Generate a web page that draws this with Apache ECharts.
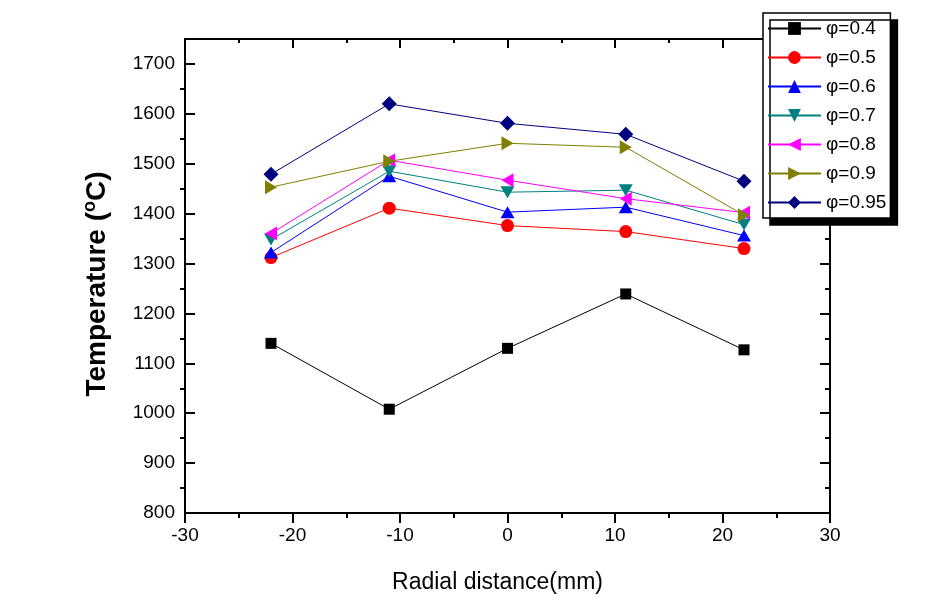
<!DOCTYPE html>
<html>
<head>
<meta charset="utf-8">
<script src="https://cdn.jsdelivr.net/npm/echarts@6/dist/echarts.min.js"></script>
<style>html,body{margin:0;padding:0;background:#fff}#c{width:929px;height:608px}</style>
</head>
<body>
<div id="c"></div>
<script>
// ---- data ----
const radial = [-22, -11, 0, 11, 22];
const seriesNames = ['φ=0.4', 'φ=0.5', 'φ=0.6', 'φ=0.7', 'φ=0.8', 'φ=0.9', 'φ=0.95'];
const phi04  = [1140, 1008, 1130, 1239, 1127];
const phi05  = [1312, 1411, 1376, 1364, 1330];
const phi06  = [1322, 1475, 1403, 1413, 1356];
const phi07  = [1348, 1485, 1443, 1447, 1378];
const phi08  = [1360, 1507, 1467, 1430, 1402];
const phi09  = [1453, 1505, 1541, 1533, 1397];
const phi095 = [1479, 1620, 1581, 1559, 1465];
const yMajorTicks = [800, 900, 1000, 1100, 1200, 1300, 1400, 1500, 1600, 1700];
const yMinorTicks = [850, 950, 1050, 1150, 1250, 1350, 1450, 1550, 1650];

const values = [phi04, phi05, phi06, phi07, phi08, phi09, phi095];
const colors = ['#000000', '#ff0000', '#0000ff', '#008080', '#ff00ff', '#808000', '#000080'];
const symbols = ['rect', 'circle', 'triangle', 'triangle', 'triangle', 'triangle', 'diamond'];
const rotates = [0, 0, 0, 180, 90, -90, 0];
const sizes = [[11, 11], [13, 13], [14, 12], [14, 12], [14, 12], [14, 12], [15, 15]];

const FONT = 'Liberation Sans, Arial, sans-serif';
const chart = echarts.init(document.getElementById('c'), null, {renderer: 'canvas'});

const series = values.map((v, i) => ({
  name: seriesNames[i],
  type: 'line',
  xAxisIndex: 0,
  yAxisIndex: 0,
  data: radial.map((x, j) => [x, v[j]]),
  symbol: symbols[i],
  symbolSize: sizes[i],
  symbolRotate: rotates[i],
  showSymbol: true,
  lineStyle: {color: colors[i], width: 1},
  itemStyle: {color: colors[i]},
  emphasis: {disabled: true},
  z: 2 + i
}));

const yBase = {type: 'value', min: 800, max: 1750, splitLine: {show: false}};

chart.setOption({
  animation: false,
  backgroundColor: '#ffffff',
  grid: {left: 185, right: 99, top: 39, bottom: 95, containLabel: false},
  legend: {
    left: 763, top: 13,
    orient: 'vertical',
    itemWidth: 53, itemHeight: 16, itemGap: 10,
    padding: [6, 4, 6, 4],
    backgroundColor: '#ffffff',
    borderColor: '#000000', borderWidth: 1.5,
    shadowColor: '#000000', shadowBlur: 0, shadowOffsetX: 7, shadowOffsetY: 7,
    textStyle: {fontFamily: FONT, fontSize: 19, color: '#000'},
    data: seriesNames
  },
  xAxis: [
    {
      type: 'value', position: 'bottom', min: -30, max: 30, interval: 10,
      splitLine: {show: false},
      axisLine: {show: true, onZero: false, lineStyle: {color: '#000', width: 2}},
      axisTick: {show: true, inside: false, length: 10, lineStyle: {color: '#000', width: 2}},
      minorTick: {show: true, splitNumber: 2, length: 5, lineStyle: {color: '#000', width: 2}},
      axisLabel: {fontFamily: FONT, fontSize: 19, color: '#000', margin: 13},
      name: 'Radial distance(mm)', nameLocation: 'middle', nameGap: 58,
      nameTextStyle: {fontFamily: FONT, fontSize: 23, color: '#000', padding: [0, 20, 0, 0]}
    },
    {
      type: 'value', position: 'top', min: -30, max: 30, interval: 10,
      splitLine: {show: false},
      axisLine: {show: true, onZero: false, lineStyle: {color: '#000', width: 2}},
      axisTick: {show: true, inside: true, length: 9, lineStyle: {color: '#000', width: 2}},
      minorTick: {show: true, splitNumber: 2, length: 4, lineStyle: {color: '#000', width: 2}},
      axisLabel: {show: false}
    }
  ],
  yAxis: [
    Object.assign({}, yBase, {
      position: 'left',
      axisLine: {show: true, onZero: false, lineStyle: {color: '#000', width: 2}},
      axisTick: {show: true, inside: true, length: 10, customValues: yMajorTicks, lineStyle: {color: '#000', width: 2}},
      axisLabel: {fontFamily: FONT, fontSize: 19, color: '#000', margin: 10, customValues: yMajorTicks,
                  formatter: v => String(v)},
      name: 'Temperature ({sup|o}C)', nameLocation: 'middle', nameGap: 72, nameRotate: 90,
      nameTextStyle: {
        fontFamily: FONT, fontSize: 28, fontWeight: 'bold', color: '#000', padding: [0, 16, 0, 0],
        rich: {sup: {fontFamily: FONT, fontSize: 18, fontWeight: 'bold', color: '#000', padding: [0, 0, 14, 0]}}
      }
    }),
    Object.assign({}, yBase, {
      position: 'left',
      axisLine: {show: false, onZero: false},
      axisTick: {show: true, inside: false, length: 5, customValues: yMinorTicks, lineStyle: {color: '#000', width: 2}},
      axisLabel: {show: false}
    }),
    Object.assign({}, yBase, {
      position: 'right',
      axisLine: {show: true, onZero: false, lineStyle: {color: '#000', width: 2}},
      axisTick: {show: true, inside: true, length: 10, customValues: yMajorTicks, lineStyle: {color: '#000', width: 2}},
      axisLabel: {show: false}
    }),
    Object.assign({}, yBase, {
      position: 'right',
      axisLine: {show: false, onZero: false},
      axisTick: {show: true, inside: true, length: 5, customValues: yMinorTicks, lineStyle: {color: '#000', width: 2}},
      axisLabel: {show: false}
    })
  ],
  series: series
});
</script>
</body>
</html>
